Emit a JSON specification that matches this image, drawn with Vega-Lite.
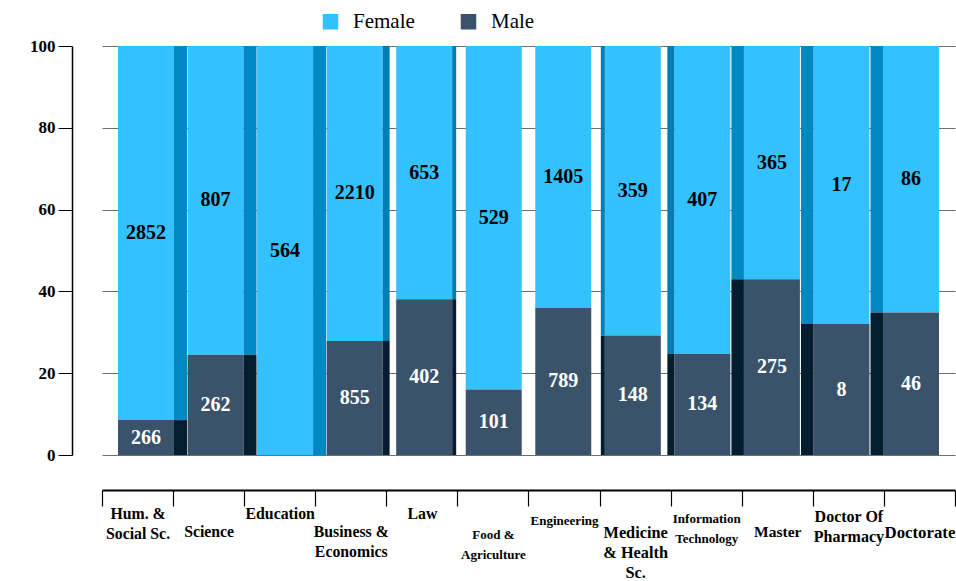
{
  "$schema": "https://vega.github.io/schema/vega-lite/v6.json",
  "width": 853,
  "height": 409,
  "autosize": "none",
  "padding": {"left": 102, "top": 46, "right": 1, "bottom": 126},
  "background": "white",
  "config": {"font": "Liberation Serif", "view": {"stroke": null}},
  "data": {
    "values": [
      {"cat": "Hum. & Social Sc.", "gender": "Female", "count": 2852},
      {"cat": "Hum. & Social Sc.", "gender": "Male", "count": 266},
      {"cat": "Science", "gender": "Female", "count": 807},
      {"cat": "Science", "gender": "Male", "count": 262},
      {"cat": "Education", "gender": "Female", "count": 564},
      {"cat": "Business & Economics", "gender": "Female", "count": 2210},
      {"cat": "Business & Economics", "gender": "Male", "count": 855},
      {"cat": "Law", "gender": "Female", "count": 653},
      {"cat": "Law", "gender": "Male", "count": 402},
      {"cat": "Food & Agriculture", "gender": "Female", "count": 529},
      {"cat": "Food & Agriculture", "gender": "Male", "count": 101},
      {"cat": "Engineering", "gender": "Female", "count": 1405},
      {"cat": "Engineering", "gender": "Male", "count": 789},
      {"cat": "Medicine & Health Sc.", "gender": "Female", "count": 359},
      {"cat": "Medicine & Health Sc.", "gender": "Male", "count": 148},
      {"cat": "Information Technology", "gender": "Female", "count": 407},
      {"cat": "Information Technology", "gender": "Male", "count": 134},
      {"cat": "Master", "gender": "Female", "count": 365},
      {"cat": "Master", "gender": "Male", "count": 275},
      {"cat": "Doctor Of Pharmacy", "gender": "Female", "count": 17},
      {"cat": "Doctor Of Pharmacy", "gender": "Male", "count": 8},
      {"cat": "Doctorate", "gender": "Female", "count": 86},
      {"cat": "Doctorate", "gender": "Male", "count": 46}
    ]
  },
  "layer": [
    {
      "mark": {"type": "point", "opacity": 0},
      "encoding": {
        "x": {
          "field": "cat",
          "type": "nominal",
          "sort": ["Hum. & Social Sc.", "Science", "Education", "Business & Economics", "Law", "Food & Agriculture", "Engineering", "Medicine & Health Sc.", "Information Technology", "Master", "Doctor Of Pharmacy", "Doctorate"],
          "scale": {"type": "band", "paddingInner": 0, "paddingOuter": 0},
          "axis": {
            "orient": "bottom",
            "offset": 35,
            "title": null,
            "grid": false,
            "domainColor": "black",
            "domainWidth": 2,
            "tickColor": "black",
            "tickWidth": 1.2,
            "tickSize": 16,
            "tickBand": "extent",
            "labelAngle": 0,
            "labelColor": "black",
            "labelFontWeight": "bold",
            "labelFontSize": {
              "condition": [
                {"test": "datum.value == 'Food & Agriculture'", "value": 13},
                {"test": "datum.value == 'Engineering' || datum.value == 'Information Technology'", "value": 13},
                {"test": "datum.value == 'Medicine & Health Sc.'", "value": 16.3},
                {"test": "datum.value == 'Master'", "value": 15.5},
                {"test": "datum.value == 'Doctor Of Pharmacy'", "value": 16},
                {"test": "datum.value == 'Doctorate'", "value": 16.8}
              ],
              "value": 15.8
            },
            "labelPadding": {
              "condition": [
                {"test": "datum.value == 'Food & Agriculture'", "value": 22},
                {"test": "datum.value == 'Engineering'", "value": 8},
                {"test": "datum.value == 'Information Technology'", "value": 6},
                {"test": "datum.value == 'Science' || datum.value == 'Business & Economics' || datum.value == 'Master' || datum.value == 'Doctorate'", "value": 18},
                {"test": "datum.value == 'Medicine & Health Sc.'", "value": 18},
                {"test": "datum.value == 'Doctor Of Pharmacy'", "value": 2}
              ],
              "value": 0
            },
            "labelLineHeight": 20,
            "labelOverlap": false,
            "labelBaseline": "top",
            "labelExpr": "datum.value == 'Hum. & Social Sc.' ? ['Hum. &', 'Social Sc.'] : datum.value == 'Business & Economics' ? ['Business &', 'Economics'] : datum.value == 'Food & Agriculture' ? ['Food &', 'Agriculture'] : datum.value == 'Medicine & Health Sc.' ? ['Medicine', '& Health', 'Sc.'] : datum.value == 'Information Technology' ? ['Information', 'Technology'] : datum.value == 'Doctor Of Pharmacy' ? ['Doctor Of', 'Pharmacy'] : datum.value"
          }
        }
      }
    },
    {
      "encoding": {
        "x": {
          "field": "cat",
          "type": "nominal",
          "sort": ["Hum. & Social Sc.", "Science", "Education", "Business & Economics", "Law", "Food & Agriculture", "Engineering", "Medicine & Health Sc.", "Information Technology", "Master", "Doctor Of Pharmacy", "Doctorate"],
          "scale": {"paddingInner": 0.195, "paddingOuter": 0.23},
          "axis": null
        }
      },
      "layer": [
        {
          "mark": {"type": "bar"},
          "encoding": {
            "y": {
              "field": "count",
              "type": "quantitative",
              "stack": "normalize",
              "scale": {"domain": [0, 1]},
              "axis": {
                "title": null,
                "offset": 30,
                "values": [0, 0.2, 0.4, 0.6, 0.8, 1],
                "labelExpr": "round(datum.value * 100)",
                "grid": true,
                "gridColor": "#6e6e6e",
                "gridWidth": 1,
                "domainColor": "black",
                "domainWidth": 1.5,
                "tickColor": "black",
                "tickSize": 14,
                "labelColor": "black",
                "labelFontWeight": "bold",
                "labelFontSize": 17,
                "labelPadding": 3
              }
            },
            "color": {
              "field": "gender",
              "type": "nominal",
              "scale": {"domain": ["Female", "Male"], "range": ["#33C1FF", "#3A536A"]},
              "legend": {
                "orient": "none",
                "legendX": 218,
                "legendY": -35,
                "direction": "horizontal",
                "title": null,
                "labelFontSize": 21,
                "labelColor": "black",
                "symbolType": "square",
                "symbolSize": 240,
                "symbolStrokeWidth": 0,
                "labelOffset": 12,
                "columnPadding": 43
              }
            },
            "order": {"field": "gender", "sort": "descending"}
          }
        },
        {
          "transform": [{"filter": {"field": "cat", "oneOf": ["Hum. & Social Sc.", "Science", "Education"]}}],
          "mark": {"type": "bar", "width": 13, "xOffset": 34.5},
          "encoding": {
            "y": {"field": "count", "type": "quantitative", "stack": "normalize"},
            "detail": {"field": "gender"},
            "order": {"field": "gender", "sort": "descending"},
            "color": {"condition": {"test": "datum.gender == 'Female'", "value": "#0088C2"}, "value": "#041E30"}
          }
        },
        {
          "transform": [{"filter": {"field": "cat", "oneOf": ["Business & Economics"]}}],
          "mark": {"type": "bar", "width": 7, "xOffset": 31.5},
          "encoding": {
            "y": {"field": "count", "type": "quantitative", "stack": "normalize"},
            "detail": {"field": "gender"},
            "order": {"field": "gender", "sort": "descending"},
            "color": {"condition": {"test": "datum.gender == 'Female'", "value": "#007EB3"}, "value": "#041E30"}
          }
        },
        {
          "transform": [{"filter": {"field": "cat", "oneOf": ["Law"]}}],
          "mark": {"type": "bar", "width": 4, "xOffset": 30},
          "encoding": {
            "y": {"field": "count", "type": "quantitative", "stack": "normalize"},
            "detail": {"field": "gender"},
            "order": {"field": "gender", "sort": "descending"},
            "color": {"condition": {"test": "datum.gender == 'Female'", "value": "#007EB3"}, "value": "#041E30"}
          }
        },
        {
          "transform": [{"filter": {"field": "cat", "oneOf": ["Medicine & Health Sc."]}}],
          "mark": {"type": "bar", "width": 4, "xOffset": -30},
          "encoding": {
            "y": {"field": "count", "type": "quantitative", "stack": "normalize"},
            "detail": {"field": "gender"},
            "order": {"field": "gender", "sort": "descending"},
            "color": {"condition": {"test": "datum.gender == 'Female'", "value": "#007EB3"}, "value": "#041E30"}
          }
        },
        {
          "transform": [{"filter": {"field": "cat", "oneOf": ["Information Technology"]}}],
          "mark": {"type": "bar", "width": 7, "xOffset": -31.5},
          "encoding": {
            "y": {"field": "count", "type": "quantitative", "stack": "normalize"},
            "detail": {"field": "gender"},
            "order": {"field": "gender", "sort": "descending"},
            "color": {"condition": {"test": "datum.gender == 'Female'", "value": "#007EB3"}, "value": "#041E30"}
          }
        },
        {
          "transform": [{"filter": {"field": "cat", "oneOf": ["Master", "Doctor Of Pharmacy", "Doctorate"]}}],
          "mark": {"type": "bar", "width": 12.5, "xOffset": -34.25},
          "encoding": {
            "y": {"field": "count", "type": "quantitative", "stack": "normalize"},
            "detail": {"field": "gender"},
            "order": {"field": "gender", "sort": "descending"},
            "color": {"condition": {"test": "datum.gender == 'Female'", "value": "#0088C2"}, "value": "#041E30"}
          }
        },
        {
          "mark": {"type": "text", "fontSize": 20, "fontWeight": "bold"},
          "encoding": {
            "y": {"field": "count", "type": "quantitative", "stack": "normalize", "bandPosition": 0.5},
            "detail": {"field": "gender"},
            "order": {"field": "gender", "sort": "descending"},
            "text": {"field": "count", "type": "quantitative"},
            "color": {"condition": {"test": "datum.gender == 'Male'", "value": "white"}, "value": "black"}
          }
        }
      ]
    }
  ],
  "resolve": {"scale": {"x": "independent"}}
}
